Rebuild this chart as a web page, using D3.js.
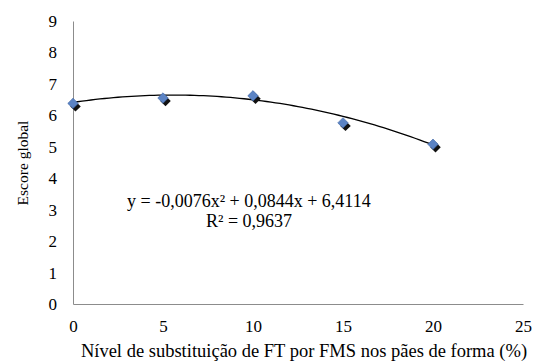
<!DOCTYPE html>
<html>
<head>
<meta charset="utf-8">
<script src="https://cdn.jsdelivr.net/npm/d3@7"></script>
</head>
<body style="margin:0;background:#fff">
<div id="chart"></div>
<script>
// substitution level (%) and global score
const levels = [0, 5, 10, 15, 20];
const scores = [6.38, 6.55, 6.62, 5.76, 5.08];
const xTicks = [0, 5, 10, 15, 20, 25];
const yTicks = [0, 1, 2, 3, 4, 5, 6, 7, 8, 9];
// polynomial trendline coefficients: a x^2 + b x + c
const trendCoef = [-0.0076, 0.0844, 6.4114];
const equationText = 'y = -0,0076x² + 0,0844x + 6,4114';
const r2Text = 'R² = 0,9637';

const FONT = 'Liberation Serif';

const width = 534;
const height = 363;
const margin = { top: 21, right: 11, bottom: 59, left: 73 };

const svg = d3.select('#chart')
  .append('svg')
  .attr('width', width)
  .attr('height', height)
  .attr('font-family', FONT);

const g = svg.append('g')
  .attr('transform', `translate(${margin.left},${margin.top})`);

const innerW = width - margin.left - margin.right;
const innerH = height - margin.top - margin.bottom;

const xScale = d3.scaleLinear().domain([0, 25]).range([0, innerW]);
const yScale = d3.scaleLinear().domain([0, 9]).range([innerH, 0]);

// axes
const xAxis = g.append('g')
  .attr('transform', `translate(0,${innerH})`)
  .call(d3.axisBottom(xScale).tickValues(xTicks).tickSize(0).tickPadding(16));
const yAxis = g.append('g')
  .call(d3.axisLeft(yScale).tickValues(yTicks).tickSize(0).tickPadding(16));

[xAxis, yAxis].forEach(ax => {
  ax.attr('font-family', FONT).attr('font-size', 17);
  ax.select('.domain').attr('stroke', '#8c8c8c').attr('stroke-width', 1);
  ax.selectAll('text')
    .attr('font-family', FONT)
    .attr('font-size', 17)
    .attr('fill', '#000');
});

// trendline
const curve = d3.range(0, 20.01, 0.25).map(x => ({
  x, y: trendCoef[0] * x * x + trendCoef[1] * x + trendCoef[2]
}));

g.append('path')
  .datum(curve)
  .attr('fill', 'none')
  .attr('stroke', '#000')
  .attr('stroke-width', 1.3)
  .attr('d', d3.line().x(d => xScale(d.x)).y(d => yScale(d.y)));

// markers (diamond with dark shadow)
const data = levels.map((x, i) => ({ x, y: scores[i] }));
const diamond = d3.symbol().type(d3.symbolDiamond2).size(70);

g.selectAll('.shadow')
  .data(data)
  .enter()
  .append('path')
  .attr('class', 'shadow')
  .attr('d', diamond)
  .attr('transform', d => `translate(${xScale(d.x) + 2.5},${yScale(d.y) + 3})`)
  .attr('fill', '#111');

g.selectAll('.point')
  .data(data)
  .enter()
  .append('path')
  .attr('class', 'point')
  .attr('d', diamond)
  .attr('transform', d => `translate(${xScale(d.x)},${yScale(d.y)})`)
  .attr('fill', '#5b83c4')
  .attr('stroke', '#3e64a3')
  .attr('stroke-width', 0.6);

// equation labels
svg.append('text')
  .attr('x', 127)
  .attr('y', 207)
  .attr('font-family', FONT)
  .attr('font-size', 18)
  .text(equationText);

svg.append('text')
  .attr('x', 206)
  .attr('y', 227)
  .attr('font-family', FONT)
  .attr('font-size', 18)
  .text(r2Text);

// axis titles
svg.append('text')
  .attr('text-anchor', 'middle')
  .attr('x', 304)
  .attr('y', 357)
  .attr('font-family', FONT)
  .attr('font-size', 18.5)
  .text('Nível de substituição de FT por FMS nos pães de forma (%)');

svg.append('text')
  .attr('text-anchor', 'middle')
  .attr('transform', 'translate(28,163) rotate(-90)')
  .attr('font-family', FONT)
  .attr('font-size', 15.5)
  .text('Escore global');
</script>
</body>
</html>
